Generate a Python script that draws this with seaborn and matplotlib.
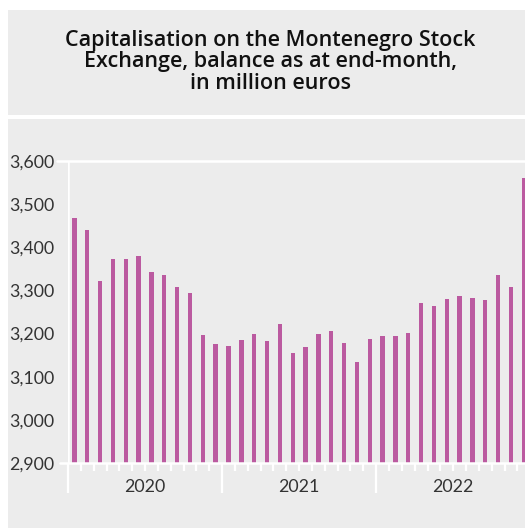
import matplotlib
matplotlib.use("Agg")
import matplotlib.pyplot as plt
import matplotlib.transforms as mtransforms
from matplotlib.patches import Rectangle
import seaborn as sns
import pandas as pd

# ---- data ----
months = [f"{y}-{m:02d}" for y in (2020, 2021, 2022) for m in range(1, 13)]
values_2020 = [3467, 3439, 3323, 3374, 3374, 3379, 3343, 3335, 3309, 3295, 3197, 3176]
values_2021 = [3172, 3186, 3198, 3182, 3223, 3156, 3168, 3200, 3206, 3179, 3135, 3188]
values_2022 = [3195, 3195, 3201, 3272, 3264, 3280, 3286, 3283, 3278, 3335, 3309, 3560]
values = values_2020 + values_2021 + values_2022
years = ["2020", "2021", "2022"]
yticks = [2900, 3000, 3100, 3200, 3300, 3400, 3500, 3600]
title = "Capitalisation on the Montenegro Stock\nExchange, balance as at end-month,\nin million euros"

df = pd.DataFrame({"month": months, "value": values})

sns.set_style("white")
plt.rcParams["font.family"] = ["Lato", "DejaVu Sans"]

W, H = 525, 528
fig = plt.figure(figsize=(W / 100, H / 100), dpi=100)
fig.patch.set_facecolor("white")
panel = "#ececec"
fig.patches.append(Rectangle((8 / W, (H - 115) / H), 1, 105 / H, transform=fig.transFigure,
                             facecolor=panel, edgecolor="none", zorder=-5))
fig.patches.append(Rectangle((8 / W, 0), 1, (H - 119) / H, transform=fig.transFigure,
                             facecolor=panel, edgecolor="none", zorder=-5))

fig.text(270 / W, (H - 62) / H, title, ha="center", va="center", fontsize=15.5,
         fontweight="semibold", family=["Open Sans", "DejaVu Sans"], color="#111111",
         linespacing=1.06)

ax = fig.add_axes([68 / W, (H - 463) / H, (W - 68) / W, (463 - 161) / H])
ax.set_zorder(2)
ax.set_facecolor("none")
sns.barplot(data=df, x="month", y="value", order=months, color="#bb5aa0",
            saturation=1, width=0.34, edgecolor="none", linewidth=0, ax=ax, zorder=2)

px_per_unit = 12.84
ax.set_xlim(-0.5, -0.5 + (W - 68) / px_per_unit)
ax.set_ylim(2900, 3600)
ax.set_yticks(yticks)
ax.set_yticklabels([f"{v:,}" for v in yticks], fontsize=12.8, color="#333333")
ax.tick_params(axis="y", left=False, length=0, pad=10)
ax.set_xlabel("")
ax.set_ylabel("")

for s in ["top", "right", "bottom", "left"]:
    ax.spines[s].set_visible(False)

# x-axis line and ticks
ax.set_xticks([-0.5, 11.5, 23.5])
ax.set_xticklabels([])
ax.set_xticks([i + 0.5 for i in range(35) if i not in (11, 23)], minor=True)
ax.tick_params(axis="x", which="major", bottom=True, length=21.5, width=1.6, color="white")
ax.tick_params(axis="x", which="minor", bottom=True, length=5.5, width=1.6, color="white")

ax.axhline(2900, xmin=-8 / (W - 68), xmax=1, color="white", lw=1.8, clip_on=False, zorder=3)
ax.axhline(3600, xmin=-11 / (W - 68), xmax=1, color="white", lw=1.8, clip_on=False, zorder=3)
ax.axvline(-0.5, color="white", lw=1.8, zorder=3)

trans = mtransforms.blended_transform_factory(ax.transData, ax.transAxes)
for i, yr in enumerate(years):
    ax.text(5.5 + 12 * i, -(487 - 463) / (463 - 161), yr, transform=trans,
            ha="center", va="center", fontsize=12.8, color="#333333")

fig.savefig("out.png", dpi=100, facecolor=fig.get_facecolor())
